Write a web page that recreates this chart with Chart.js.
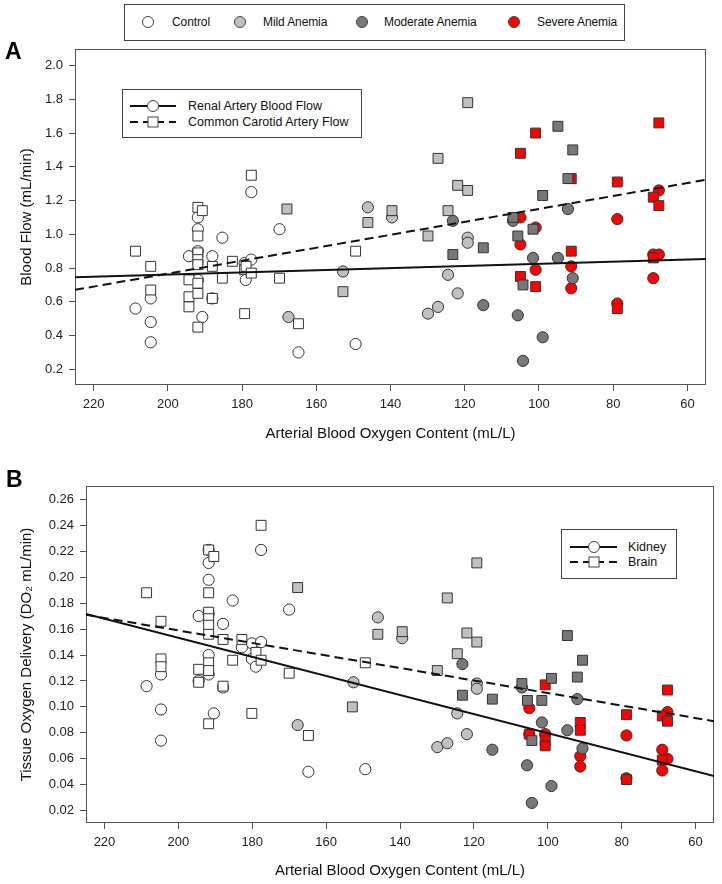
<!DOCTYPE html>
<html>
<head>
<meta charset="utf-8">
<script src="https://cdn.jsdelivr.net/npm/chart.js@4.4.1/dist/chart.umd.min.js"></script>
<style>
  body { margin: 0; background: #fff; font-family: "Liberation Sans", Arial, sans-serif; }
  #page { position: relative; width: 722px; height: 884px; overflow: hidden; }
  canvas { position: absolute; left: 0; }
  .box { position: absolute; border: 1px solid #444; background: #fff; box-sizing: border-box; }
  .txt { position: absolute; font-size: 12.5px; color: #111; line-height: 16px; white-space: nowrap; }
  .top { font-size: 12px; letter-spacing: -0.1px; }
  .dot { position: absolute; width: 12px; height: 12px; border-radius: 50%; border: 1px solid #444; box-sizing: border-box; }
  .tag { position: absolute; font-weight: bold; font-size: 23px; line-height: 24px; color: #000; }
  svg { position: absolute; }
</style>
</head>
<body>
<div id="page">
  <canvas id="chartA" width="722" height="462" style="top:0"></canvas>
  <canvas id="chartB" width="722" height="422" style="top:462px"></canvas>

  <!-- group legend -->
  <div class="box" style="left:124px;top:4px;width:501px;height:37px;"></div>
  <div class="dot" style="left:142px;top:16px;background:#fff"></div>
  <div class="txt top" style="left:172px;top:14px">Control</div>
  <div class="dot" style="left:234px;top:16px;background:#c0c0c0"></div>
  <div class="txt top" style="left:263px;top:14px">Mild Anemia</div>
  <div class="dot" style="left:356px;top:16px;background:#787878"></div>
  <div class="txt top" style="left:384px;top:14px">Moderate Anemia</div>
  <div class="dot" style="left:508px;top:16px;background:#ff0000"></div>
  <div class="txt top" style="left:537px;top:14px">Severe Anemia</div>

  <div class="tag" style="left:5px;top:39px">A</div>
  <div class="tag" style="left:6px;top:467px">B</div>

  <!-- panel A legend -->
  <div class="box" style="left:122px;top:89px;width:240px;height:49px;"></div>
  <svg style="left:128px;top:99px" width="52" height="30">
    <line x1="2" y1="7" x2="48" y2="7" stroke="#111" stroke-width="2"/>
    <circle cx="25" cy="7" r="5.5" fill="#fff" stroke="#444"/>
    <line x1="2" y1="23" x2="48" y2="23" stroke="#111" stroke-width="2" stroke-dasharray="8,5"/>
    <rect x="20" y="18" width="10" height="10" fill="#fff" stroke="#444"/>
  </svg>
  <div class="txt" style="left:188px;top:98px">Renal Artery Blood Flow</div>
  <div class="txt" style="left:188px;top:114px">Common Carotid Artery Flow</div>

  <!-- panel B legend -->
  <div class="box" style="left:561px;top:529px;width:116px;height:50px;"></div>
  <svg style="left:568px;top:540px" width="52" height="30">
    <line x1="2" y1="7" x2="49" y2="7" stroke="#111" stroke-width="2"/>
    <circle cx="26" cy="7" r="5.5" fill="#fff" stroke="#444"/>
    <line x1="2" y1="22" x2="49" y2="22" stroke="#111" stroke-width="2" stroke-dasharray="8,5"/>
    <rect x="21" y="17" width="10" height="10" fill="#fff" stroke="#444"/>
  </svg>
  <div class="txt" style="left:628px;top:539px">Kidney</div>
  <div class="txt" style="left:628px;top:554px">Brain</div>
</div>

<script>
// ---- data: [arterial O2 content mL/L, value] ----
// Panel A: blood flow (mL/min)
const flowRenalControl = [[208.7,0.56],[204.6,0.62],[204.6,0.48],[204.6,0.36],[194.3,0.87],[191.9,1.10],[191.9,1.03],[191.9,0.90],[191.9,0.73],[190.7,0.51],[188.0,0.87],[188.0,0.62],[185.3,0.98],[179.3,0.83],[179.0,0.73],[177.5,0.85],[177.5,1.25],[169.9,1.03],[164.8,0.30],[149.4,0.35]];
const flowRenalMild = [[167.5,0.51],[152.8,0.78],[146.1,1.16],[139.6,1.10],[129.9,0.53],[127.2,0.57],[124.5,0.76],[121.9,0.65],[119.2,0.98],[119.2,0.95]];
const flowRenalModerate = [[123.2,1.08],[115.0,0.58],[107.0,1.08],[105.7,0.52],[104.3,0.25],[101.6,0.86],[99.0,0.39],[94.9,0.86],[92.2,1.15],[90.9,0.74]];
const flowRenalSevere = [[105.0,1.10],[105.0,0.94],[100.9,1.04],[100.9,0.79],[91.3,0.81],[91.3,0.68],[78.9,1.09],[78.9,0.59],[69.2,0.88],[69.2,0.74],[67.7,1.26],[67.7,0.88]];

const flowCarotidControl = [[208.7,0.90],[204.6,0.81],[204.6,0.67],[194.3,0.73],[194.3,0.63],[194.3,0.57],[191.9,1.16],[190.7,1.14],[191.9,0.99],[191.9,0.89],[191.9,0.85],[191.9,0.82],[191.9,0.71],[191.9,0.65],[191.9,0.45],[188.0,0.81],[188.0,0.62],[185.3,0.74],[182.6,0.84],[179.3,0.79],[179.3,0.53],[178.9,0.81],[177.5,0.77],[177.5,1.35],[169.9,0.74],[164.8,0.47],[149.4,0.90]];
const flowCarotidMild = [[167.9,1.15],[152.8,0.66],[146.1,1.07],[139.6,1.14],[129.9,0.99],[127.2,1.45],[124.5,1.14],[121.9,1.29],[119.2,1.26],[119.2,1.78]];
const flowCarotidModerate = [[123.2,0.88],[115.0,0.92],[107.0,1.10],[105.7,0.99],[104.3,0.70],[101.6,1.03],[99.0,1.23],[94.9,1.64],[92.2,1.33],[90.9,1.50]];
const flowCarotidSevere = [[105.0,1.48],[105.0,0.75],[100.9,1.60],[100.9,0.69],[91.3,1.33],[91.3,0.90],[78.9,1.31],[78.9,0.56],[69.2,1.22],[69.2,0.86],[67.7,1.66],[67.7,1.17]];

// Panel B: tissue oxygen delivery (DO2 mL/min)
const doKidneyControl = [[208.6,0.116],[204.7,0.125],[204.7,0.098],[204.7,0.074],[194.5,0.170],[194.5,0.120],[191.8,0.221],[191.8,0.211],[191.8,0.198],[191.8,0.172],[191.8,0.140],[191.8,0.125],[190.4,0.095],[187.9,0.164],[187.9,0.115],[185.3,0.182],[182.8,0.146],[180.1,0.149],[180.1,0.137],[179.0,0.131],[177.6,0.150],[177.6,0.221],[170.0,0.175],[164.8,0.050],[149.4,0.052]];
const doKidneyMild = [[167.7,0.086],[152.6,0.119],[146.0,0.169],[139.4,0.153],[129.9,0.069],[127.2,0.072],[124.5,0.095],[121.9,0.079],[119.2,0.118],[119.2,0.114]];
const doKidneyModerate = [[123.1,0.133],[115.0,0.067],[107.0,0.115],[105.6,0.055],[104.3,0.026],[101.6,0.088],[99.0,0.039],[94.7,0.082],[92.0,0.106],[90.6,0.068]];
const doKidneySevere = [[105.0,0.099],[105.0,0.079],[100.7,0.079],[91.2,0.062],[91.2,0.054],[78.7,0.078],[78.7,0.045],[69.0,0.067],[69.0,0.051],[67.6,0.096],[67.6,0.060]];

const doBrainControl = [[208.6,0.188],[204.7,0.166],[204.7,0.137],[204.7,0.131],[194.5,0.129],[194.5,0.119],[191.8,0.221],[190.4,0.216],[191.8,0.188],[191.8,0.173],[191.8,0.168],[191.8,0.163],[191.8,0.156],[191.8,0.134],[191.8,0.128],[191.8,0.087],[187.9,0.116],[187.9,0.152],[185.3,0.136],[182.8,0.152],[180.1,0.095],[179.0,0.142],[177.6,0.136],[177.6,0.240],[170.0,0.126],[164.8,0.078],[149.4,0.134]];
const doBrainMild = [[167.7,0.192],[152.9,0.100],[146.0,0.156],[139.4,0.158],[129.9,0.128],[127.2,0.184],[124.5,0.141],[121.9,0.157],[119.2,0.150],[119.2,0.211]];
const doBrainModerate = [[123.1,0.109],[115.0,0.106],[107.0,0.118],[105.5,0.105],[104.3,0.074],[101.6,0.105],[99.0,0.122],[94.7,0.155],[92.0,0.123],[90.6,0.136]];
const doBrainSevere = [[100.7,0.117],[105.0,0.079],[100.7,0.074],[100.7,0.070],[91.2,0.088],[91.2,0.082],[78.7,0.094],[78.7,0.044],[69.0,0.093],[69.0,0.059],[67.6,0.113],[67.6,0.089]];

// regression lines, read at the two ends of the x range
const fitX = [225, 55];
const renalFit = [0.746, 0.854];
const carotidFit = [0.671, 1.323];
const kidneyFit = [0.1716, 0.0467];
const brainFit = [0.171, 0.089];

const xTicks = [220, 200, 180, 160, 140, 120, 100, 80, 60];
const groupColors = ['#ffffff', '#c0c0c0', '#787878', '#ff0000'];

const FONT = '"Liberation Sans", Arial, sans-serif';

const frame = {
  id: 'frame',
  beforeDatasetsDraw(chart) {
    const { ctx, chartArea: a } = chart;
    ctx.save();
    ctx.strokeStyle = '#555';
    ctx.lineWidth = 1;
    ctx.strokeRect(Math.round(a.left) + 0.5, Math.round(a.top) + 0.5,
      Math.round(a.right - a.left) - 1, Math.round(a.bottom - a.top) - 1);
    ctx.restore();
  }
};

function markerSets(groups, style) {
  return groups.map((g, i) => ({
    type: 'scatter',
    data: g.map(p => ({ x: p[0], y: p[1] })),
    pointStyle: style,
    pointRadius: style === 'rect' ? 7 : 5.6,
    backgroundColor: groupColors[i],
    borderColor: '#333',
    borderWidth: 1,
    order: 2
  }));
}

function fitLine(ys, dash) {
  return {
    type: 'line',
    data: fitX.map((x, i) => ({ x: x, y: ys[i] })),
    borderColor: '#111',
    borderWidth: 2,
    borderDash: dash,
    pointRadius: 0,
    fill: false,
    order: 0
  };
}

function makePanel(id, o) {
  new Chart(document.getElementById(id), {
    type: 'scatter',
    data: { datasets: o.datasets },
    options: {
      responsive: false,
      animation: false,
      devicePixelRatio: 1,
      layout: { padding: o.pad },
      plugins: { legend: { display: false }, tooltip: { enabled: false } },
      scales: {
        x: {
          type: 'linear', reverse: true, min: 55, max: 225,
          afterFit: s => { s.height = o.xh; },
          afterBuildTicks: s => { s.ticks = xTicks.map(v => ({ value: v })); },
          border: { display: false },
          grid: { drawOnChartArea: false, tickLength: 6, color: '#555' },
          ticks: { autoSkip: false, maxRotation: 0, padding: 6, color: '#222', font: { size: 13, family: FONT } },
          title: { display: true, text: 'Arterial Blood Oxygen Content (mL/L)', color: '#111',
            font: { size: 15, family: FONT }, padding: { top: 0, bottom: o.xtp } }
        },
        y: {
          type: 'linear', min: o.yMin, max: o.yMax,
          afterFit: s => { s.width = o.yw; },
          afterBuildTicks: s => { s.ticks = o.yTicks.map(v => ({ value: v })); },
          border: { display: false },
          grid: { drawOnChartArea: false, tickLength: 6, color: '#555' },
          ticks: { autoSkip: false, padding: 6, color: '#222', font: { size: 13, family: FONT },
            callback: v => v.toFixed(o.digits) },
          title: { display: true, text: o.yTitle, color: '#111',
            font: { size: 15, family: FONT }, padding: { top: o.ytp, bottom: 0 } }
        }
      }
    },
    plugins: [frame]
  });
}

const yTicksA = [0.2, 0.4, 0.6, 0.8, 1.0, 1.2, 1.4, 1.6, 1.8, 2.0];
const yTicksB = [0.02, 0.04, 0.06, 0.08, 0.10, 0.12, 0.14, 0.16, 0.18, 0.20, 0.22, 0.24, 0.26];

makePanel('chartA', {
  datasets: [
    fitLine(renalFit, []),
    fitLine(carotidFit, [9, 5]),
    ...markerSets([flowCarotidControl, flowCarotidMild, flowCarotidModerate, flowCarotidSevere], 'rect'),
    ...markerSets([flowRenalControl, flowRenalMild, flowRenalModerate, flowRenalSevere], 'circle')
  ],
  pad: { top: 49, right: 16, left: 0, bottom: 0 },
  xh: 77, yw: 75, xtp: 19, ytp: 18,
  yMin: 0.107, yMax: 2.098, yTicks: yTicksA, digits: 1,
  yTitle: 'Blood Flow (mL/min)'
});

makePanel('chartB', {
  datasets: [
    fitLine(kidneyFit, []),
    fitLine(brainFit, [9, 5]),
    ...markerSets([doBrainControl, doBrainMild, doBrainModerate, doBrainSevere], 'rect'),
    ...markerSets([doKidneyControl, doKidneyMild, doKidneyModerate, doKidneySevere], 'circle')
  ],
  pad: { top: 24, right: 5, left: 0, bottom: 0 },
  xh: 61, yw: 86, xtp: 4, ytp: 18,
  yMin: 0.0105, yMax: 0.2703, yTicks: yTicksB, digits: 2,
  yTitle: 'Tissue Oxygen Delivery (DO\u2082 mL/min)'
});
</script>
</body>
</html>
